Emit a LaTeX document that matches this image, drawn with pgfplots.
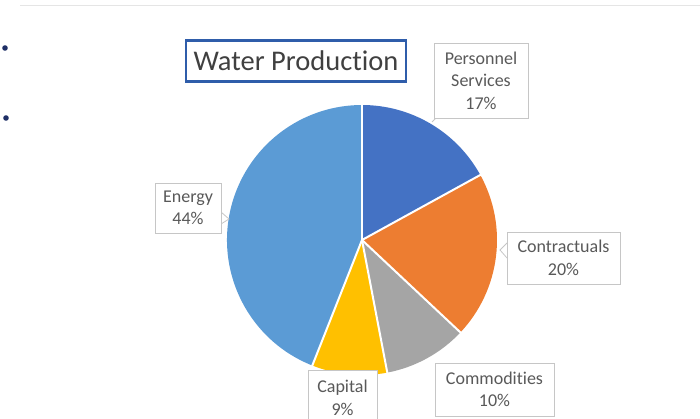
\documentclass[border=0pt]{standalone}
\usepackage{pgfplots}
\pgfplotsset{compat=1.18}
\usepackage{pgfplotstable}
\usepackage{fontspec}
\setmainfont{Carlito}[Ligatures={NoCommon}]
\definecolor{cPer}{HTML}{4472C4}
\definecolor{cCon}{HTML}{ED7D31}
\definecolor{cCom}{HTML}{A5A5A5}
\definecolor{cCap}{HTML}{FFC000}
\definecolor{cEne}{HTML}{5B9BD5}
\definecolor{txt}{HTML}{595959}
\definecolor{ttl}{HTML}{404040}
\definecolor{ttlbox}{HTML}{2F5DAA}
\definecolor{bul}{HTML}{1F2F66}
\pgfplotstableread{
name value
Personnel 17
Contractuals 20
Commodities 10
Capital 9
Energy 44
}\piedata
\newcommand\slice[3]{%
  \fill[#3] (axis cs:362,178) -- (axis cs:{362+135*cos(#1)},{178+135*sin(#1)})
    arc[start angle=#1, end angle=#2, radius=135] -- cycle;}
\newcommand\sep[1]{%
  \draw[white, line width=2pt] (axis cs:362,178) -- (axis cs:{362+136*cos(#1)},{178+136*sin(#1)});}
\begin{document}
\pgfplotstablegetelem{0}{value}\of\piedata \edef\vA{\pgfplotsretval}%
\pgfplotstablegetelem{1}{value}\of\piedata \edef\vB{\pgfplotsretval}%
\pgfplotstablegetelem{2}{value}\of\piedata \edef\vC{\pgfplotsretval}%
\pgfplotstablegetelem{3}{value}\of\piedata \edef\vD{\pgfplotsretval}%
\pgfplotstablegetelem{4}{value}\of\piedata \edef\vE{\pgfplotsretval}%
\pgfmathsetmacro\aA{90}%
\pgfmathsetmacro\aB{\aA-3.6*\vA}%
\pgfmathsetmacro\aC{\aB-3.6*\vB}%
\pgfmathsetmacro\aD{\aC-3.6*\vC}%
\pgfmathsetmacro\aE{\aD-3.6*\vD}%
\pgfmathsetmacro\aF{\aE-3.6*\vE}%
\begin{tikzpicture}
\begin{axis}[at={(0,0)}, anchor=south west, width=700pt, height=418pt,
  scale only axis, xmin=0, xmax=700, ymin=0, ymax=418, hide axis, clip=false]
% frame line and bullets
\draw[gray!20, line width=1pt] (axis cs:20,412) -- (axis cs:700,412);
\fill[bul] (axis cs:5,370) circle[radius=2.8];
\fill[bul] (axis cs:6,300) circle[radius=2.8];
% pie
\slice{\aA}{\aB}{cPer}
\slice{\aB}{\aC}{cCon}
\slice{\aC}{\aD}{cCom}
\slice{\aD}{\aE}{cCap}
\slice{\aE}{\aF}{cEne}
\sep{\aA}\sep{\aB}\sep{\aC}\sep{\aD}\sep{\aE}
% title
\node[draw=ttlbox, line width=2.8pt, text=ttl, font=\fontsize{28.5}{32}\selectfont,
  minimum width=220pt, minimum height=41pt, inner sep=0pt] at (axis cs:296,357) {Water Production};
% callout tails
\draw[gray!45, line width=0.8pt] (axis cs:436,300) -- (axis cs:432,296);
\filldraw[fill=white, draw=gray!45, line width=0.8pt] (axis cs:221,206) -- (axis cs:229,199) -- (axis cs:221,194);
\filldraw[fill=white, draw=gray!45, line width=0.8pt] (axis cs:507,175) -- (axis cs:500,168) -- (axis cs:507,160);
\draw[gray!45, line width=0.8pt] (axis cs:440,55) -- (axis cs:478,55);
% labels
\tikzset{lbl/.style={draw=gray!45, line width=0.8pt, fill=white, text=txt,
  font=\fontsize{18}{22.5}\selectfont, align=center, inner sep=0pt}}
\node[lbl, minimum width=94pt, minimum height=75pt] at (axis cs:481,337.5) {Personnel\\Services\\17\%};
\node[lbl, minimum width=66pt, minimum height=50pt] at (axis cs:188,210) {Energy\\44\%};
\node[lbl, minimum width=113pt, minimum height=52pt] at (axis cs:563.5,160) {Contractuals\\20\%};
\node[lbl, minimum width=119pt, minimum height=53pt] at (axis cs:494.5,28.5) {Commodities\\10\%};
\node[lbl, minimum width=69pt, minimum height=58pt] at (axis cs:342.5,19) {\raisebox{3pt}{Capital}\\\raisebox{3pt}{9\%}};
\end{axis}
\pgfresetboundingbox
\path (0,0) rectangle (700pt,418pt);
\end{tikzpicture}
\end{document}
